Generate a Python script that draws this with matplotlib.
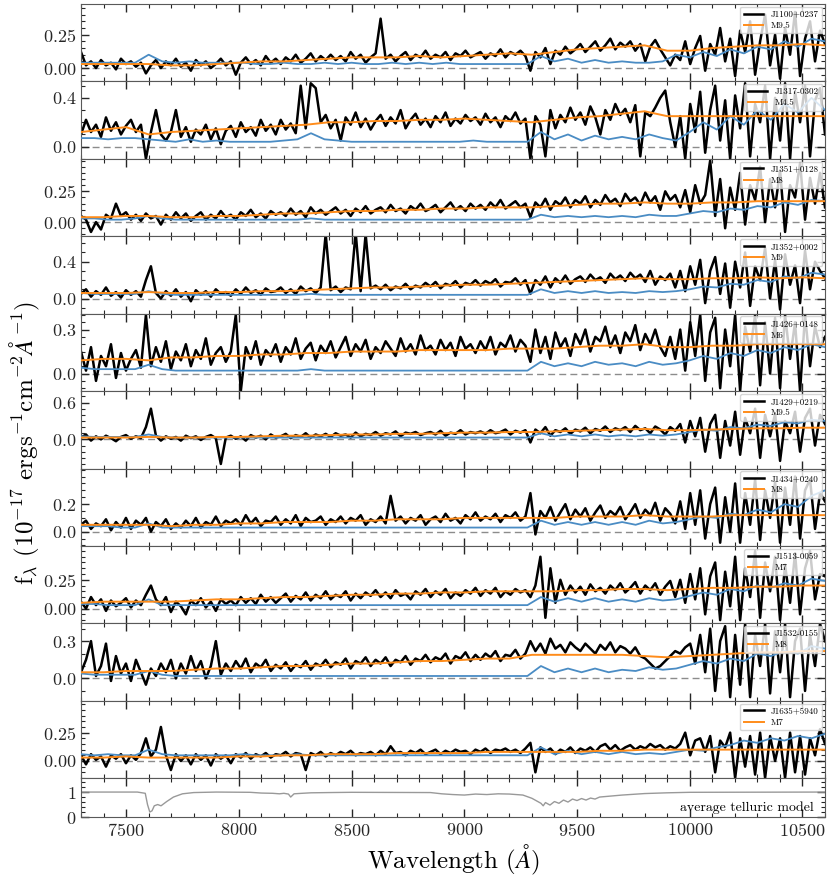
import numpy as np
import matplotlib
matplotlib.use("Agg")
import matplotlib.pyplot as plt
from matplotlib.ticker import MultipleLocator

plt.rcParams["font.family"] = "serif"
plt.rcParams["font.serif"] = ["cmr10"]
plt.rcParams["mathtext.fontset"] = "cm"
plt.rcParams["axes.formatter.use_mathtext"] = True

# ---- data ---------------------------------------------------------------
names = ["J1100+0237", "J1317-0302", "J1351+0128", "J1352+0002", "J1426+0148",
         "J1429+0219", "J1434+0240", "J1513-0059", "J1532-0155", "J1635+5940"]
spectral_types = ["M9.5", "M4.5", "M8", "M9", "M6", "M9.5", "M8", "M7", "M8", "M7"]

# observed spectra, 150 samples from 7300 to 10600 A
obs_flux = [
    [0.12, 0.02, 0.05, 0.00, 0.06, 0.02, 0.04, -0.01, 0.07, 0.03,
     0.05, 0.01, 0.04, -0.04, 0.02, 0.06, 0.00, 0.05, 0.02, 0.07,
     0.01, 0.04, -0.02, 0.06, 0.02, 0.05, 0.00, 0.03, 0.07, 0.02,
     0.05, -0.05, 0.04, 0.08, 0.03, 0.06, 0.02, 0.09, 0.04, 0.07,
     0.03, 0.08, 0.05, 0.10, 0.04, 0.07, 0.11, 0.05, 0.09, 0.06,
     0.10, 0.06, 0.09, 0.05, 0.12, 0.07, 0.10, 0.04, 0.08, 0.11,
     0.37, 0.07, 0.10, 0.05, 0.09, 0.12, 0.06, 0.10, 0.08, 0.13,
     0.07, 0.10, 0.08, 0.12, 0.06, 0.11, 0.09, 0.13, 0.08, 0.10,
     0.12, 0.07, 0.11, 0.09, 0.14, 0.08, 0.12, 0.10, 0.13, 0.09,
     -0.02, 0.12, 0.08, 0.15, 0.03, 0.13, 0.10, 0.16, 0.11, 0.14,
     0.18, 0.12, 0.16, 0.20, 0.13, 0.17, 0.22, 0.14, 0.19, 0.16,
     0.20, 0.13, 0.18, 0.05, 0.16, 0.21, 0.14, 0.08, 0.02, 0.10,
     0.06, 0.20, 0.03, 0.15, 0.24, -0.02, 0.18, 0.10, 0.30, 0.05,
     0.22, -0.06, 0.28, 0.12, 0.35, -0.05, 0.20, 0.40, 0.02, 0.25,
     -0.08, 0.30, 0.10, 0.42, -0.06, 0.22, 0.35, 0.05, 0.28, 0.18],
    [0.10, 0.22, 0.12, 0.18, 0.08, 0.24, 0.13, 0.20, 0.10, 0.17,
     0.22, 0.12, 0.18, -0.10, 0.12, 0.30, 0.10, 0.05, 0.12, 0.30,
     0.08, 0.16, 0.04, 0.14, 0.10, 0.18, 0.06, 0.15, 0.02, 0.13,
     0.17, 0.08, 0.20, 0.12, 0.16, 0.09, 0.22, 0.13, 0.18, 0.10,
     0.22, 0.14, 0.19, 0.11, 0.50, 0.15, 0.52, 0.48, 0.20, 0.26,
     0.15, 0.22, 0.05, 0.24, 0.18, 0.28, 0.16, 0.23, 0.14, 0.21,
     0.26, 0.17, 0.24, 0.19, 0.30, 0.15, 0.22, 0.27, 0.18, 0.23,
     0.16, 0.25, 0.20, 0.28, 0.17, 0.23, 0.19, 0.26, 0.21, 0.24,
     0.18, 0.27, 0.20, 0.24, 0.16, 0.25, 0.21, 0.28, 0.19, 0.23,
     -0.10, 0.25, 0.18, -0.08, 0.30, 0.15, 0.26, 0.20, 0.32, 0.22,
     0.28, 0.18, 0.33, 0.24, 0.10, 0.30, 0.22, 0.35, 0.26, 0.31,
     0.20, 0.34, -0.08, 0.28, 0.25, 0.32, 0.40, 0.46, 0.20, 0.00,
     0.25, -0.10, 0.35, 0.12, 0.45, -0.05, 0.30, 0.50, 0.05, 0.38,
     -0.10, 0.42, 0.15, 0.52, -0.08, 0.35, 0.20, 0.50, -0.10, 0.40,
     0.05, 0.52, -0.10, 0.45, 0.20, 0.50, -0.08, 0.38, 0.48, 0.10],
    [0.05, 0.02, -0.08, 0.00, -0.06, 0.06, 0.03, 0.15, 0.05, 0.08,
     0.02, 0.06, 0.01, 0.07, 0.03, 0.05, -0.02, 0.06, 0.02, 0.08,
     0.03, 0.07, 0.01, 0.05, 0.08, 0.02, 0.06, 0.03, 0.09, 0.04,
     0.06, 0.02, 0.08, 0.05, 0.10, 0.04, 0.07, 0.03, 0.09, 0.06,
     0.08, 0.05, 0.11, 0.06, 0.09, 0.04, 0.12, 0.07, 0.10, 0.06,
     0.09, 0.12, 0.07, 0.10, 0.05, 0.11, 0.08, 0.13, 0.07, 0.10,
     0.12, 0.08, 0.14, 0.09, 0.11, 0.07, 0.13, 0.10, 0.15, 0.09,
     0.11, 0.14, 0.08, 0.12, 0.16, 0.10, 0.13, 0.09, 0.15, 0.11,
     0.14, 0.10, 0.16, 0.12, 0.18, 0.11, 0.14, 0.17, 0.12, 0.15,
     0.04, 0.16, 0.12, 0.19, 0.10, 0.17, 0.14, 0.20, 0.12, 0.18,
     0.15, 0.21, 0.12, 0.18, 0.14, 0.22, 0.16, 0.19, 0.13, 0.23,
     0.17, 0.20, 0.14, 0.24, 0.16, 0.21, 0.10, 0.25, 0.18, 0.22,
     0.12, 0.26, 0.08, 0.30, 0.15, 0.22, 0.50, 0.05, 0.35, -0.05,
     0.28, 0.10, 0.40, -0.02, 0.30, 0.18, 0.45, 0.00, 0.35, 0.12,
     0.42, -0.08, 0.30, 0.20, 0.48, 0.02, 0.36, 0.15, 0.40, 0.12],
    [0.05, 0.10, 0.02, 0.08, 0.04, 0.12, 0.03, 0.07, 0.01, 0.09,
     0.04, 0.08, 0.02, 0.20, 0.35, 0.06, 0.00, 0.08, 0.03, 0.10,
     0.02, 0.07, -0.03, 0.09, 0.04, 0.08, 0.02, 0.10, 0.05, 0.07,
     0.03, 0.10, 0.05, 0.12, 0.06, 0.09, 0.04, 0.11, 0.07, 0.08,
     0.12, 0.06, 0.10, 0.05, 0.13, 0.08, 0.11, 0.06, 0.12, 0.70,
     0.09, 0.13, 0.07, 0.12, 0.10, 0.72, 0.08, 0.70, 0.11, 0.14,
     0.10, 0.15, 0.09, 0.13, 0.11, 0.16, 0.10, 0.14, 0.12, 0.17,
     0.13, 0.18, 0.11, 0.16, 0.14, 0.19, 0.12, 0.17, 0.15, 0.20,
     0.14, 0.19, 0.16, 0.21, 0.13, 0.18, 0.17, 0.22, 0.15, 0.20,
     0.05, 0.20, 0.15, 0.24, 0.12, 0.22, 0.17, 0.25, 0.16, 0.21,
     0.24, 0.18, 0.26, 0.20, 0.23, 0.17, 0.27, 0.21, 0.25, 0.19,
     0.28, 0.22, 0.26, 0.18, 0.30, 0.15, 0.24, 0.20, 0.27, 0.12,
     0.30, 0.08, 0.35, 0.15, 0.42, -0.05, 0.30, 0.45, 0.05, 0.38,
     -0.10, 0.40, 0.12, 0.50, -0.08, 0.35, 0.20, 0.55, 0.00, 0.42,
     -0.12, 0.48, 0.15, 0.36, -0.05, 0.52, 0.10, 0.40, 0.30, 0.22],
    [0.15, 0.02, 0.18, -0.05, 0.12, 0.05, 0.20, -0.03, 0.14, 0.02,
     0.10, 0.16, 0.04, 0.40, 0.05, 0.18, 0.08, 0.22, 0.03, 0.15,
     0.09, 0.20, 0.05, 0.16, 0.10, 0.24, 0.06, 0.14, 0.18, 0.08,
     0.15, 0.40, -0.12, 0.18, 0.10, 0.22, 0.06, 0.16, 0.12, 0.20,
     0.08, 0.18, 0.13, 0.24, 0.10, 0.17, 0.21, 0.09, 0.19, 0.14,
     0.22, 0.11, 0.18, 0.25, 0.12, 0.20, 0.15, 0.23, 0.10, 0.18,
     0.14, 0.22, 0.17, 0.12, 0.24, 0.15, 0.20, 0.13, 0.26, 0.16,
     0.19, 0.13, 0.23, 0.16, 0.21, 0.12, 0.25, 0.17, 0.20, 0.14,
     0.22, 0.16, 0.25, 0.13, 0.21, 0.18, 0.26, 0.15, 0.23, 0.19,
     0.08, 0.30, 0.14, 0.25, 0.10, 0.28, 0.18, 0.24, 0.12, 0.27,
     0.20, 0.30, 0.15, 0.25, 0.22, 0.32, 0.18, 0.26, 0.14, 0.28,
     0.22, 0.33, 0.16, 0.27, 0.20, 0.30, 0.18, 0.12, 0.25, 0.10,
     0.30, 0.02, 0.35, 0.12, 0.40, -0.05, 0.28, 0.38, -0.10, 0.30,
     0.05, 0.40, -0.12, 0.32, 0.15, 0.40, -0.08, 0.35, 0.00, 0.38,
     -0.10, 0.40, 0.10, 0.35, -0.12, 0.40, 0.05, 0.32, 0.18, 0.25],
    [0.03, 0.08, -0.02, 0.05, 0.00, 0.06, 0.02, -0.03, 0.04, 0.07,
     0.01, 0.05, 0.02, 0.20, 0.50, 0.06, -0.02, 0.05, 0.01, 0.04,
     -0.02, 0.06, 0.02, 0.05, -0.01, 0.04, 0.07, 0.02, -0.40, 0.03,
     0.06, 0.01, 0.05, -0.02, 0.07, 0.03, 0.06, 0.00, 0.08, 0.03,
     0.05, 0.09, 0.02, 0.07, 0.04, 0.10, 0.03, 0.08, 0.05, 0.09,
     0.04, 0.10, 0.06, 0.08, 0.03, 0.11, 0.05, 0.09, 0.07, 0.12,
     0.06, 0.10, 0.08, 0.13, 0.05, 0.11, 0.09, 0.12, 0.07, 0.10,
     0.12, 0.08, 0.14, 0.06, 0.11, 0.09, 0.15, 0.08, 0.12, 0.10,
     0.13, 0.09, 0.15, 0.10, 0.12, 0.16, 0.08, 0.14, 0.11, 0.15,
     -0.05, 0.16, 0.10, 0.20, 0.06, 0.15, 0.12, 0.18, 0.09, 0.16,
     0.13, 0.19, 0.10, 0.17, 0.14, 0.21, 0.12, 0.18, 0.15, 0.20,
     0.12, 0.22, 0.15, 0.18, 0.10, 0.21, 0.16, 0.08, 0.20, 0.14,
     0.25, -0.05, 0.30, 0.05, 0.35, -0.20, 0.25, 0.40, -0.30, 0.30,
     -0.10, 0.45, -0.25, 0.35, 0.10, 0.50, -0.30, 0.40, 0.05, 0.42,
     -0.35, 0.30, 0.10, 0.45, -0.20, 0.35, 0.50, -0.10, 0.40, 0.25],
    [0.05, 0.08, 0.02, 0.06, 0.04, 0.09, 0.01, 0.07, 0.03, 0.10,
     0.02, 0.08, 0.05, 0.10, 0.00, 0.07, 0.04, 0.09, 0.02, 0.06,
     0.03, 0.08, 0.04, 0.10, 0.03, 0.07, 0.05, 0.11, 0.04, 0.08,
     0.06, 0.09, 0.05, 0.12, 0.06, 0.10, 0.04, 0.08, 0.07, 0.11,
     0.05, 0.09, 0.06, 0.12, 0.04, 0.10, 0.07, 0.08, 0.11, 0.05,
     0.09, 0.07, 0.11, 0.06, 0.10, 0.08, 0.12, 0.05, 0.09, 0.07,
     0.11, 0.06, 0.26, 0.08, 0.11, 0.06, 0.10, 0.08, 0.12, 0.05,
     0.09, 0.11, 0.07, 0.13, 0.08, 0.10, 0.06, 0.12, 0.09, 0.14,
     0.08, 0.11, 0.09, 0.13, 0.07, 0.12, 0.10, 0.14, 0.08, 0.11,
     0.28, -0.02, 0.15, 0.10, 0.18, 0.08, 0.14, 0.20, 0.09, 0.16,
     0.11, 0.17, 0.08, 0.14, 0.19, 0.10, 0.15, 0.12, 0.18, 0.09,
     0.14, 0.20, 0.10, 0.16, 0.12, 0.21, 0.08, 0.17, 0.13, 0.06,
     0.22, 0.02, 0.28, 0.05, 0.30, -0.05, 0.20, 0.32, -0.08, 0.25,
     0.00, 0.35, -0.08, 0.28, 0.05, 0.38, -0.06, 0.30, 0.10, 0.36,
     -0.08, 0.32, 0.05, 0.40, -0.05, 0.30, 0.38, 0.02, 0.28, 0.22],
    [0.06, 0.00, 0.10, 0.03, 0.08, -0.02, 0.07, 0.02, 0.05, 0.09,
     0.01, 0.07, 0.03, 0.12, 0.20, 0.08, 0.03, 0.10, -0.03, 0.06,
     0.02, -0.05, 0.07, 0.03, 0.09, 0.01, 0.06, -0.02, 0.08, 0.04,
     0.07, 0.03, 0.10, 0.05, 0.09, 0.04, 0.12, 0.06, 0.10, 0.05,
     0.09, 0.13, 0.06, 0.11, 0.08, 0.14, 0.07, 0.12, 0.09, 0.15,
     0.08, 0.12, 0.10, 0.15, 0.07, 0.13, 0.09, 0.14, 0.11, 0.16,
     0.10, 0.14, 0.09, 0.16, 0.11, 0.13, 0.08, 0.15, 0.12, 0.17,
     0.10, 0.15, 0.12, 0.17, 0.09, 0.14, 0.11, 0.16, 0.13, 0.18,
     0.11, 0.16, 0.13, 0.18, 0.10, 0.15, 0.12, 0.17, 0.14, 0.16,
     0.10, 0.20, 0.45, -0.08, 0.35, 0.05, 0.25, 0.12, 0.20, 0.14,
     0.19, 0.12, 0.21, 0.15, 0.18, 0.13, 0.20, 0.16, 0.22, 0.14,
     0.18, 0.23, 0.13, 0.20, 0.16, 0.22, 0.12, 0.19, 0.24, 0.10,
     0.25, 0.05, 0.30, 0.08, 0.35, -0.05, 0.28, 0.40, -0.10, 0.32,
     0.02, 0.45, -0.10, 0.35, 0.10, 0.50, -0.08, 0.40, 0.15, 0.45,
     -0.10, 0.38, 0.05, 0.48, -0.05, 0.35, 0.50, 0.08, 0.30, 0.28],
    [0.05, 0.15, 0.30, 0.02, 0.10, 0.28, -0.02, 0.18, 0.04, 0.12,
     -0.02, 0.15, 0.05, -0.05, 0.08, 0.02, 0.12, 0.05, 0.15, 0.00,
     0.12, 0.04, 0.18, 0.06, 0.14, 0.00, 0.10, 0.30, 0.03, 0.12,
     0.06, 0.14, 0.08, 0.16, 0.05, 0.12, 0.09, 0.15, 0.06, 0.11,
     0.08, 0.13, 0.06, 0.11, 0.09, 0.14, 0.07, 0.12, 0.10, 0.15,
     0.09, 0.13, 0.11, 0.16, 0.08, 0.14, 0.12, 0.17, 0.10, 0.15,
     0.12, 0.17, 0.10, 0.15, 0.13, 0.18, 0.11, 0.16, 0.14, 0.19,
     0.13, 0.17, 0.15, 0.20, 0.12, 0.18, 0.16, 0.21, 0.14, 0.19,
     0.15, 0.20, 0.17, 0.22, 0.14, 0.19, 0.18, 0.23, 0.16, 0.20,
     0.30, 0.22, 0.28, 0.20, 0.32, 0.24, 0.27, 0.21, 0.29, 0.25,
     0.22, 0.28, 0.24, 0.20, 0.27, 0.23, 0.29, 0.21, 0.26, 0.24,
     0.20, 0.25, 0.18, 0.16, 0.12, 0.08, 0.10, 0.14, 0.18, 0.22,
     0.20, 0.25, 0.28, 0.12, 0.35, 0.05, 0.40, -0.10, 0.30, 0.42,
     -0.15, 0.35, -0.05, 0.44, -0.15, 0.35, 0.10, 0.44, -0.12, 0.38,
     0.05, 0.44, -0.15, 0.30, 0.40, -0.10, 0.35, 0.10, 0.44, 0.30],
    [0.05, -0.03, 0.06, 0.01, 0.04, -0.05, 0.05, 0.02, 0.06, -0.02,
     0.05, 0.01, 0.07, 0.20, 0.04, 0.10, 0.30, 0.05, -0.08, 0.06,
     0.00, 0.05, -0.03, 0.06, 0.01, 0.05, -0.04, 0.06, 0.02, 0.05,
     -0.02, 0.06, 0.03, 0.07, 0.02, 0.06, 0.04, 0.07, 0.03, 0.06,
     0.05, 0.08, 0.04, 0.07, 0.06, -0.08, 0.07, 0.05, 0.08, 0.04,
     0.07, 0.05, 0.08, 0.06, 0.09, 0.05, 0.07, 0.06, 0.08, 0.05,
     0.09, 0.06, 0.13, 0.07, 0.08, 0.05, 0.09, 0.07, 0.10, 0.06,
     0.08, 0.10, 0.06, 0.09, 0.07, 0.10, 0.08, 0.09, 0.06, 0.10,
     0.08, 0.11, 0.07, 0.10, 0.09, 0.11, 0.08, 0.10, 0.07, 0.11,
     0.16, -0.10, 0.12, 0.08, 0.11, 0.06, 0.10, 0.08, 0.12, 0.07,
     0.11, 0.09, 0.12, 0.08, 0.13, 0.15, 0.10, 0.14, 0.09, 0.12,
     0.14, 0.10, 0.13, 0.11, 0.15, 0.12, 0.14, 0.10, 0.13, 0.11,
     0.15, 0.25, 0.05, 0.18, 0.20, 0.08, 0.22, -0.10, 0.18, 0.12,
     0.25, -0.15, 0.20, -0.05, 0.22, -0.12, 0.25, -0.15, 0.22, 0.00,
     0.20, -0.15, 0.25, -0.10, 0.22, -0.12, 0.20, 0.05, 0.28, 0.15],
]

# best-fit templates, every 100 A from 7300 to 10600
template_flux = [
    [0.03, 0.03, 0.03, 0.03, 0.02, 0.02, 0.03, 0.04, 0.05, 0.05, 0.06, 0.07,
     0.08, 0.08, 0.08, 0.09, 0.08, 0.09, 0.10, 0.11, 0.10, 0.12, 0.14, 0.15,
     0.16, 0.17, 0.13, 0.13, 0.15, 0.16, 0.17, 0.17, 0.18, 0.17],
    [0.12, 0.14, 0.16, 0.10, 0.12, 0.13, 0.14, 0.15, 0.16, 0.17, 0.18, 0.20,
     0.20, 0.21, 0.21, 0.22, 0.22, 0.23, 0.22, 0.21, 0.20, 0.22, 0.24, 0.25,
     0.27, 0.29, 0.25, 0.25, 0.25, 0.25, 0.25, 0.25, 0.25, 0.25],
    [0.04, 0.04, 0.05, 0.05, 0.04, 0.04, 0.05, 0.05, 0.06, 0.07, 0.07, 0.08,
     0.09, 0.09, 0.10, 0.10, 0.11, 0.11, 0.12, 0.12, 0.12, 0.13, 0.14, 0.15,
     0.15, 0.16, 0.15, 0.15, 0.16, 0.16, 0.17, 0.17, 0.17, 0.17],
    [0.06, 0.06, 0.06, 0.07, 0.06, 0.06, 0.07, 0.07, 0.08, 0.08, 0.09, 0.10,
     0.11, 0.12, 0.12, 0.13, 0.14, 0.15, 0.15, 0.16, 0.17, 0.18, 0.19, 0.20,
     0.21, 0.22, 0.21, 0.21, 0.22, 0.22, 0.23, 0.22, 0.23, 0.22],
    [0.09, 0.10, 0.10, 0.09, 0.11, 0.11, 0.12, 0.12, 0.13, 0.13, 0.14, 0.14,
     0.15, 0.15, 0.15, 0.16, 0.16, 0.16, 0.16, 0.17, 0.17, 0.17, 0.18, 0.19,
     0.19, 0.20, 0.18, 0.18, 0.19, 0.19, 0.20, 0.20, 0.20, 0.20],
    [0.03, 0.03, 0.03, 0.04, 0.03, 0.03, 0.04, 0.04, 0.05, 0.06, 0.06, 0.07,
     0.08, 0.08, 0.09, 0.09, 0.10, 0.11, 0.11, 0.12, 0.12, 0.13, 0.14, 0.15,
     0.16, 0.17, 0.15, 0.15, 0.16, 0.17, 0.18, 0.18, 0.19, 0.19],
    [0.05, 0.05, 0.05, 0.05, 0.04, 0.05, 0.05, 0.06, 0.06, 0.07, 0.07, 0.07,
     0.08, 0.08, 0.09, 0.09, 0.09, 0.10, 0.10, 0.10, 0.10, 0.10, 0.11, 0.11,
     0.11, 0.12, 0.11, 0.11, 0.11, 0.12, 0.12, 0.12, 0.12, 0.12],
    [0.05, 0.06, 0.06, 0.06, 0.06, 0.07, 0.08, 0.08, 0.09, 0.10, 0.10, 0.11,
     0.12, 0.12, 0.13, 0.13, 0.14, 0.14, 0.15, 0.15, 0.15, 0.15, 0.16, 0.16,
     0.17, 0.17, 0.16, 0.17, 0.18, 0.18, 0.19, 0.19, 0.20, 0.20],
    [0.05, 0.05, 0.06, 0.06, 0.06, 0.07, 0.08, 0.08, 0.09, 0.10, 0.10, 0.11,
     0.12, 0.12, 0.13, 0.14, 0.14, 0.15, 0.16, 0.16, 0.19, 0.19, 0.19, 0.19,
     0.19, 0.18, 0.17, 0.18, 0.19, 0.20, 0.21, 0.21, 0.22, 0.22],
    [0.03, 0.03, 0.04, 0.03, 0.03, 0.03, 0.03, 0.04, 0.04, 0.05, 0.05, 0.06,
     0.06, 0.06, 0.07, 0.07, 0.07, 0.07, 0.08, 0.08, 0.08, 0.08, 0.08, 0.09,
     0.09, 0.10, 0.10, 0.10, 0.10, 0.10, 0.10, 0.10, 0.10, 0.10],
]

# noise spectra, every 60 A from 7300 to 10600
noise_flux = [
    [0.04, 0.04, 0.04, 0.04, 0.04, 0.10, 0.05, 0.04, 0.05, 0.04,
     0.04, 0.04, 0.04, 0.03, 0.03, 0.04, 0.03, 0.03, 0.04, 0.03, 0.04,
     0.03, 0.03, 0.04, 0.03, 0.04, 0.03, 0.04, 0.03, 0.03, 0.03, 0.03, 0.03, 0.03,
     0.09, 0.05, 0.07, 0.04, 0.06, 0.04, 0.05, 0.04, 0.04, 0.05,
     0.10, 0.08, 0.12, 0.09, 0.14, 0.11, 0.16, 0.14, 0.20, 0.16, 0.22, 0.20],
    [0.07, 0.07, 0.06, 0.07, 0.07, 0.06, 0.05, 0.04, 0.06, 0.04,
     0.05, 0.04, 0.04, 0.04, 0.04, 0.05, 0.06, 0.11, 0.06, 0.05, 0.04,
     0.04, 0.04, 0.04, 0.04, 0.04, 0.04, 0.04, 0.04, 0.05, 0.04, 0.04, 0.04, 0.04,
     0.12, 0.06, 0.10, 0.05, 0.09, 0.06, 0.08, 0.06, 0.10, 0.07,
     0.05, 0.12, 0.20, 0.14, 0.25, 0.18, 0.30, 0.22, 0.35, 0.28, 0.40, 0.30],
    [0.03, 0.03, 0.02, 0.02, 0.03, 0.05, 0.03, 0.02, 0.02, 0.02,
     0.02, 0.02, 0.02, 0.02, 0.02, 0.02, 0.02, 0.03, 0.02, 0.02, 0.02,
     0.02, 0.02, 0.02, 0.02, 0.02, 0.02, 0.02, 0.02, 0.02, 0.02, 0.02, 0.02, 0.02,
     0.06, 0.04, 0.05, 0.04, 0.05, 0.04, 0.05, 0.04, 0.06, 0.05,
     0.05, 0.07, 0.09, 0.08, 0.11, 0.10, 0.13, 0.12, 0.16, 0.14, 0.18, 0.17],
    [0.06, 0.05, 0.05, 0.05, 0.05, 0.08, 0.05, 0.04, 0.04, 0.04,
     0.04, 0.04, 0.04, 0.04, 0.04, 0.04, 0.04, 0.05, 0.04, 0.04, 0.04,
     0.04, 0.04, 0.04, 0.04, 0.04, 0.04, 0.04, 0.04, 0.04, 0.04, 0.04, 0.04, 0.04,
     0.10, 0.06, 0.08, 0.06, 0.08, 0.06, 0.07, 0.06, 0.08, 0.07,
     0.08, 0.10, 0.13, 0.12, 0.16, 0.15, 0.20, 0.18, 0.24, 0.22, 0.28, 0.26],
    [0.04, 0.03, 0.03, 0.03, 0.03, 0.06, 0.03, 0.02, 0.02, 0.02,
     0.02, 0.02, 0.02, 0.02, 0.02, 0.02, 0.02, 0.03, 0.02, 0.02, 0.02,
     0.02, 0.02, 0.02, 0.02, 0.02, 0.02, 0.02, 0.02, 0.02, 0.02, 0.02, 0.02, 0.02,
     0.08, 0.05, 0.07, 0.05, 0.08, 0.06, 0.07, 0.05, 0.08, 0.06,
     0.07, 0.09, 0.12, 0.10, 0.14, 0.12, 0.16, 0.14, 0.18, 0.16, 0.20, 0.18],
    [0.05, 0.04, 0.04, 0.04, 0.04, 0.08, 0.04, 0.03, 0.03, 0.03,
     0.03, 0.03, 0.03, 0.03, 0.03, 0.03, 0.03, 0.03, 0.03, 0.03, 0.03,
     0.03, 0.03, 0.03, 0.03, 0.03, 0.03, 0.03, 0.03, 0.03, 0.03, 0.03, 0.03, 0.03,
     0.10, 0.05, 0.08, 0.05, 0.08, 0.05, 0.07, 0.05, 0.08, 0.06,
     0.08, 0.12, 0.16, 0.14, 0.20, 0.18, 0.24, 0.22, 0.28, 0.26, 0.32, 0.30],
    [0.04, 0.04, 0.04, 0.03, 0.03, 0.06, 0.03, 0.03, 0.03, 0.03,
     0.03, 0.03, 0.03, 0.03, 0.03, 0.03, 0.03, 0.03, 0.03, 0.03, 0.03,
     0.03, 0.03, 0.03, 0.03, 0.03, 0.03, 0.03, 0.03, 0.03, 0.03, 0.03, 0.03, 0.03,
     0.08, 0.05, 0.07, 0.05, 0.07, 0.05, 0.07, 0.05, 0.08, 0.06,
     0.07, 0.09, 0.11, 0.10, 0.13, 0.12, 0.16, 0.14, 0.20, 0.18, 0.26, 0.30],
    [0.04, 0.04, 0.03, 0.03, 0.03, 0.08, 0.03, 0.03, 0.03, 0.03,
     0.03, 0.03, 0.03, 0.03, 0.03, 0.03, 0.03, 0.03, 0.03, 0.03, 0.03,
     0.03, 0.03, 0.03, 0.03, 0.03, 0.03, 0.03, 0.03, 0.03, 0.03, 0.03, 0.03, 0.03,
     0.10, 0.06, 0.09, 0.06, 0.09, 0.06, 0.08, 0.06, 0.09, 0.07,
     0.08, 0.11, 0.14, 0.12, 0.17, 0.15, 0.20, 0.18, 0.22, 0.20, 0.26, 0.24],
    [0.04, 0.03, 0.03, 0.03, 0.03, 0.06, 0.03, 0.02, 0.02, 0.02,
     0.02, 0.02, 0.02, 0.02, 0.02, 0.02, 0.02, 0.02, 0.02, 0.02, 0.02,
     0.02, 0.02, 0.02, 0.02, 0.02, 0.02, 0.02, 0.02, 0.02, 0.02, 0.02, 0.02, 0.02,
     0.10, 0.05, 0.08, 0.05, 0.08, 0.05, 0.07, 0.06, 0.09, 0.07,
     0.08, 0.11, 0.14, 0.12, 0.16, 0.14, 0.20, 0.18, 0.22, 0.20, 0.26, 0.24],
    [0.06, 0.05, 0.06, 0.05, 0.05, 0.10, 0.06, 0.05, 0.05, 0.05,
     0.05, 0.05, 0.06, 0.05, 0.05, 0.05, 0.06, 0.05, 0.05, 0.05, 0.05,
     0.05, 0.05, 0.05, 0.05, 0.05, 0.05, 0.05, 0.05, 0.05, 0.05, 0.05, 0.05, 0.05,
     0.12, 0.06, 0.09, 0.06, 0.08, 0.06, 0.08, 0.06, 0.07, 0.06,
     0.08, 0.10, 0.09, 0.12, 0.14, 0.18, 0.16, 0.20, 0.18, 0.22, 0.20, 0.24],
]

telluric_wave = [7300, 7550, 7585, 7595, 7605, 7615, 7625, 7640, 7655, 7680,
                 7710, 7750, 7800, 7900, 8050, 8100, 8150, 8180, 8200, 8220,
                 8230, 8245, 8280, 8320, 8400, 8500, 8850, 8900, 8950, 9000,
                 9050, 9100, 9150, 9200, 9260, 9300, 9320, 9340, 9350, 9360,
                 9380, 9400, 9420, 9440, 9460, 9480, 9500, 9520, 9540, 9560,
                 9580, 9600, 9650, 9700, 9750, 9800, 9900, 10000, 10600]
telluric_trans = [1.00, 1.00, 0.95, 0.50, 0.20, 0.25, 0.45, 0.50, 0.45, 0.62,
                  0.80, 0.93, 0.98, 1.00, 0.99, 0.96, 0.95, 0.93, 0.95, 0.92,
                  0.80, 0.93, 0.95, 0.97, 0.98, 0.99, 0.98, 0.93, 0.90, 0.88,
                  0.92, 0.90, 0.93, 0.92, 0.88, 0.75, 0.65, 0.55, 0.45, 0.58,
                  0.48, 0.62, 0.55, 0.68, 0.60, 0.72, 0.66, 0.74, 0.68, 0.76,
                  0.72, 0.80, 0.84, 0.88, 0.91, 0.94, 0.97, 0.99, 1.00]

y_limits = [(-0.1, 0.48), (-0.1, 0.535), (-0.115, 0.514), (-0.165, 0.676),
            (-0.12, 0.408), (-0.475, 0.785), (-0.104, 0.458), (-0.129, 0.543),
            (-0.18, 0.442), (-0.153, 0.53)]
y_major = [[0, 0.25], [0, 0.4], [0, 0.25], [0, 0.4], [0, 0.3],
           [0, 0.6], [0, 0.2], [0, 0.25], [0, 0.3], [0, 0.25]]
y_minor = [0.05, 0.1, 0.05, 0.1, 0.05, 0.1, 0.05, 0.05, 0.1, 0.05]

# ---- figure ---------------------------------------------------------------
fig = plt.figure(figsize=(8.30, 8.81), dpi=100)
gs = fig.add_gridspec(11, 1, height_ratios=[2] * 10 + [1], hspace=0,
                      left=0.0976, right=0.994, top=0.9955, bottom=0.0726)
axes = [fig.add_subplot(gs[i]) for i in range(11)]

wave_obs = np.linspace(7300, 10600, len(obs_flux[0]))
wave_tpl = np.linspace(7300, 10600, len(template_flux[0]))
wave_noise = np.linspace(7300, 10600, len(noise_flux[0]))


def style(ax):
    ax.set_xlim(7300, 10600)
    ax.xaxis.set_major_locator(MultipleLocator(500))
    ax.xaxis.set_minor_locator(MultipleLocator(100))
    ax.tick_params(which="both", direction="in", top=True, right=True,
                   labelsize=13, colors="0.15")
    ax.tick_params(which="major", length=6, width=1.0)
    ax.tick_params(which="minor", length=3, width=0.8)
    for sp in ax.spines.values():
        sp.set_color("0.35")


for i in range(10):
    ax = axes[i]
    ax.axhline(0, color="0.55", ls="--", lw=1.0, dashes=(5, 3), zorder=1)
    ax.plot(wave_obs, obs_flux[i], color="k", lw=1.8, label=names[i], zorder=2)
    ax.plot(wave_noise, noise_flux[i], color="#4a8cc4", lw=1.3, zorder=3)
    ax.plot(wave_tpl, template_flux[i], color="#ff8c1a", lw=1.4,
            label=spectral_types[i], zorder=4)
    ax.set_ylim(*y_limits[i])
    ax.set_yticks(y_major[i])
    ax.yaxis.set_minor_locator(MultipleLocator(y_minor[i]))
    style(ax)
    ax.tick_params(labelbottom=False)
    leg = ax.legend(loc="upper right", fontsize=6.5, framealpha=0.8,
                    handlelength=2.2, borderaxespad=0.3, labelspacing=0.3)
    leg.get_frame().set_edgecolor("0.8")

ax = axes[10]
ax.plot(telluric_wave, telluric_trans, color="0.6", lw=1.0)
ax.set_ylim(0, 1.55)
ax.set_yticks([0, 1])
ax.yaxis.set_minor_locator(MultipleLocator(0.2))
style(ax)
ax.text(0.985, 0.08, "average telluric model", transform=ax.transAxes,
        ha="right", va="bottom", fontsize=10)
ax.set_xlabel(r"Wavelength ($\AA$)", fontsize=18, labelpad=3)

fig.text(0.01, 0.497,
         r"f$_\lambda$ (10$^{-17}$ ergs$^{-1}$cm$^{-2}$$\AA^{-1}$)",
         rotation=90, va="center", ha="left", fontsize=18)

fig.savefig("out.png", dpi=100)
